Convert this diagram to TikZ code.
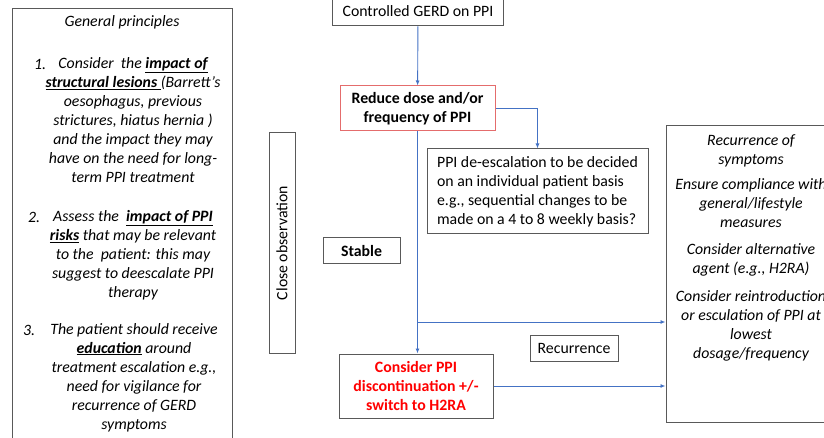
\documentclass[tikz,border=0pt]{standalone}
\usepackage{fontspec}
\setmainfont{Carlito}
\usetikzlibrary{arrows.meta,positioning}
\definecolor{flowblue}{HTML}{4472C4}
\definecolor{boxgray}{HTML}{595959}
\definecolor{softred}{HTML}{E46C6C}
\begin{document}
\begin{tikzpicture}[x=1pt,y=-1pt,
		txt/.style={font=\fontsize{15.8}{19}\selectfont},
		boldtxt/.style={font=\fontsize{15.8}{19}\selectfont\bfseries},
		itxt/.style={font=\fontsize{15.8}{19}\selectfont\itshape},
		box/.style={draw=boxgray,line width=1pt,inner sep=0pt,align=center},
		flow/.style={draw=flowblue,line width=0.9pt,-{Latex[length=5pt,width=4pt]}}]
		
		\useasboundingbox (0,0) rectangle (824,438);
		
		% general principles
		\node[box,minimum width=220,minimum height=441] (gen) at (122,229.5) {};
		\node[itxt] (title) at (122,22) {General principles};
		\node[itxt] (n1) at (40,64) {1.};
		\node[itxt,align=center,anchor=north,inner sep=0pt] (p1) at (133,57)
		{Consider\ \ the \textbf{\underline{impact of}}\\
			\textbf{\underline{structural lesions\ }}(Barrett's\\
			oesophagus, previous\\
			strictures, hiatus hernia )\\
			and the impact they may\\
			have on the need for long-\\
			term PPI treatment};
		\node[itxt] (n2) at (34,217) {2.};
		\node[itxt,align=center,anchor=north,inner sep=0pt] (p2) at (133,210)
		{Assess the\ \ \textbf{\underline{impact of PPI}}\\
			\textbf{\underline{risks}} that may be relevant\\
			to the\ \ patient: this may\\
			suggest to deescalate PPI\\
			therapy};
		\node[itxt] (n3) at (29,330) {3.};
		\node[itxt,align=center,anchor=north,inner sep=0pt] (p3) at (134,323)
		{The patient should receive\\
			\textbf{\underline{education}} around\\
			treatment escalation e.g.,\\
			need for vigilance for\\
			recurrence of GERD\\
			symptoms};
		
		% flow
		\node[box,txt,minimum width=171,minimum height=30] (gerd) at (418,11) {Controlled GERD on PPI};
		\node[box,boldtxt,draw=softred,minimum width=155,minimum height=45] (reduce) at (417.5,108.5)
		{Reduce dose and/or\\frequency of PPI};
		\node[box,txt,align=left,minimum width=221,minimum height=85] (deesc) at (537.5,191.5)
		{PPI de-escalation to be decided\\
			on an individual patient basis\\
			e.g., sequential changes to be\\
			made on a 4 to 8 weekly basis?};
		\node[box,txt,rotate=90,minimum width=220,minimum height=26] (close) at (282,243) {Close observation};
		\node[box,boldtxt,minimum width=77,minimum height=26] (stable) at (361.5,251) {Stable};
		\node[box,boldtxt,text=red,minimum width=154,minimum height=64] (stop) at (416,386)
		{Consider PPI\\discontinuation +/-\\switch to H2RA};
		\node[box,txt,minimum width=88,minimum height=26] (recur) at (574,348) {Recurrence};
		
		% recurrence of symptoms
		\node[box,minimum width=168,minimum height=296] (rbox) at (750,274) {};
		\node[itxt,align=center,anchor=north,inner sep=0pt] (rtext) at (751,134)
		{Recurrence of\\
			symptoms\\[6pt]
			Ensure compliance with\\
			general/lifestyle\\
			measures\\[8pt]
			Consider alternative\\
			agent (e.g., H2RA)\\[9pt]
			Consider reintroduction\\
			or esculation of PPI at\\
			lowest\\
			dosage/frequency};
		
		\draw[flow] (gerd) -- (reduce);
		\draw[flow] (reduce.east) -| (deesc.north);
		\draw[flow] (reduce.south) -- (reduce.south |- stop.north);
		\coordinate (split) at (reduce.south |- 0,322);
		\draw[flow] (split) -- (split -| rbox.west);
		\draw[flow] (stop.east) -- (stop.east -| rbox.west);
		
	\end{tikzpicture}
\end{document}
